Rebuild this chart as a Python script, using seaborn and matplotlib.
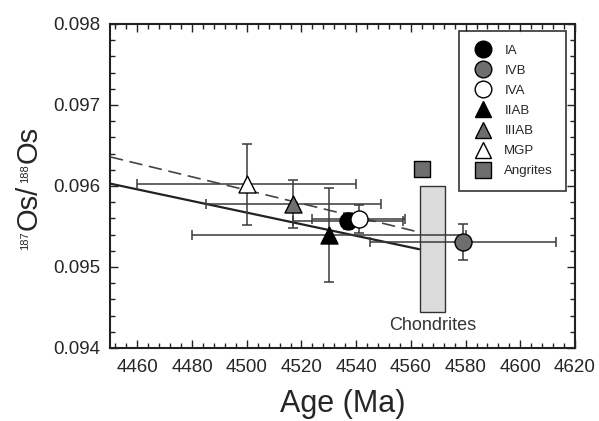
import numpy as np
import pandas as pd
import seaborn as sns
import matplotlib.pyplot as plt
from matplotlib.patches import Rectangle
from matplotlib.ticker import MultipleLocator

# data
groups = ['IA', 'IVB', 'IVA', 'IIAB', 'IIIAB', 'MGP']
age = [4537, 4579, 4541, 4530, 4517, 4500]
age_err = [20, 34, 17, 50, 32, 40]
os_ratio = [0.09557, 0.09531, 0.09559, 0.09540, 0.09578, 0.09602]
os_err = [0.00010, 0.00022, 0.00017, 0.00058, 0.00030, 0.00050]

angrite_age = [4564]
angrite_os = [0.09621]

chondrite_age = [4563.3, 4572.5]
chondrite_os = [0.09444, 0.09600]

solid_x = [4450, 4563]
solid_y = [0.09603, 0.09522]
dashed_x = [4450, 4563]
dashed_y = [0.09636, 0.09543]

marker = {'IA': 'o', 'IVB': 'o', 'IVA': 'o', 'IIAB': '^', 'IIIAB': '^', 'MGP': '^'}
fill = {'IA': 'black', 'IVB': '#6e6e6e', 'IVA': 'white',
        'IIAB': 'black', 'IIIAB': '#6e6e6e', 'MGP': 'white'}

sns.set_style("ticks")
plt.rcParams['font.family'] = ['Liberation Sans', 'DejaVu Sans']

fig, ax = plt.subplots(figsize=(5.99, 4.21), dpi=100)
fig.subplots_adjust(left=0.1836, right=0.96, top=0.943, bottom=0.1734)

# chondrite range
ax.add_patch(Rectangle((chondrite_age[0], chondrite_os[0]),
                       chondrite_age[1] - chondrite_age[0],
                       chondrite_os[1] - chondrite_os[0],
                       facecolor='#dcdcdc', edgecolor='#333333', lw=1.0, zorder=2))
ax.text(np.mean(chondrite_age), 0.09428, 'Chondrites', ha='center', va='center',
        fontsize=13, color='#333333')

sns.lineplot(x=solid_x, y=solid_y, color='#222222', lw=1.6, ax=ax, zorder=3)
ax.plot(dashed_x, dashed_y, color='#444444', lw=1.2, ls=(0, (8, 4)), zorder=3)

df = pd.DataFrame({'group': groups, 'age': age, 'age_err': age_err,
                   'os': os_ratio, 'os_err': os_err})

for _, r in df.iterrows():
    ax.errorbar(r['age'], r['os'], xerr=r['age_err'], yerr=r['os_err'],
                fmt='none', ecolor='#3a3a3a', elinewidth=1.1, capsize=3.5,
                capthick=1.1, zorder=4)

for g in ['IIAB', 'IIIAB', 'MGP', 'IVB', 'IA', 'IVA']:
    sub = df[df['group'] == g]
    sns.scatterplot(data=sub, x='age', y='os', marker=marker[g], s=150,
                    color=fill[g], edgecolor='black', linewidth=1.0,
                    ax=ax, zorder=5, legend=False)

sns.scatterplot(x=angrite_age, y=angrite_os, marker='s', s=120, color='#6e6e6e',
                edgecolor='black', linewidth=1.0, ax=ax, zorder=5, legend=False)

# legend
handles = []
for g in groups:
    h, = ax.plot([], [], ls='none', marker=marker[g], markersize=12,
                 markerfacecolor=fill[g], markeredgecolor='black', mew=1.0, label=g)
    handles.append(h)
h, = ax.plot([], [], ls='none', marker='s', markersize=11, markerfacecolor='#6e6e6e',
             markeredgecolor='black', mew=1.0, label='Angrites')
handles.append(h)
leg = ax.legend(handles=handles, loc='upper right', bbox_to_anchor=(0.981, 0.978),
                borderaxespad=0, frameon=True, fancybox=False, fontsize=9.5,
                handletextpad=0.8, labelspacing=0.6, borderpad=1.0,
                handlelength=1.6)
leg.get_frame().set_edgecolor('black')
leg.get_frame().set_linewidth(1.2)

ax.set_xlim(4450, 4620)
ax.set_ylim(0.094, 0.098)
ax.xaxis.set_major_locator(MultipleLocator(20))
ax.xaxis.set_minor_locator(MultipleLocator(4))
ax.yaxis.set_major_locator(MultipleLocator(0.001))
ax.yaxis.set_minor_locator(MultipleLocator(0.0002))
ax.yaxis.set_major_formatter(plt.FormatStrFormatter('%.3f'))
ax.tick_params(which='both', direction='in', top=True, right=True,
               labelsize=13.5, width=1.0, color='#222222')
ax.tick_params(which='major', length=6)
ax.tick_params(which='minor', length=3.5)
ax.tick_params(axis='x', pad=8)
ax.tick_params(axis='y', pad=7)
for s in ax.spines.values():
    s.set_linewidth(1.5)
    s.set_color('#222222')

ax.set_xlabel('Age (Ma)', fontsize=22, labelpad=9)
ax.set_ylabel('')  # seaborn puts the column name here; drawn by hand below

# y label: big "Os" with small isotope superscripts, built piece by piece
pieces = [('187', 8, True), ('Os/', 21, False), ('188', 8, True), ('Os', 21, False)]
gaps = [1.0, 2.5, 1.0, 0.0]
W, H = fig.bbox.width, fig.bbox.height
fig.canvas.draw()
renderer = fig.canvas.get_renderer()
x_base = 37.0
texts = []
for s, fs, sup in pieces:
    xb = x_base - (9 if sup else 0)
    t = fig.text(xb / W, 0, s, fontsize=fs, rotation=90, rotation_mode='anchor',
                 ha='left', va='baseline')
    texts.append(t)
lengths = [t.get_window_extent(renderer).height for t in texts]
cur = H - 250.0  # bottom end of the label in display coords
for t, L, g in zip(texts, lengths, gaps):
    t.set_y(cur / H)
    cur += L + g

fig.savefig('out.png', dpi=100)
